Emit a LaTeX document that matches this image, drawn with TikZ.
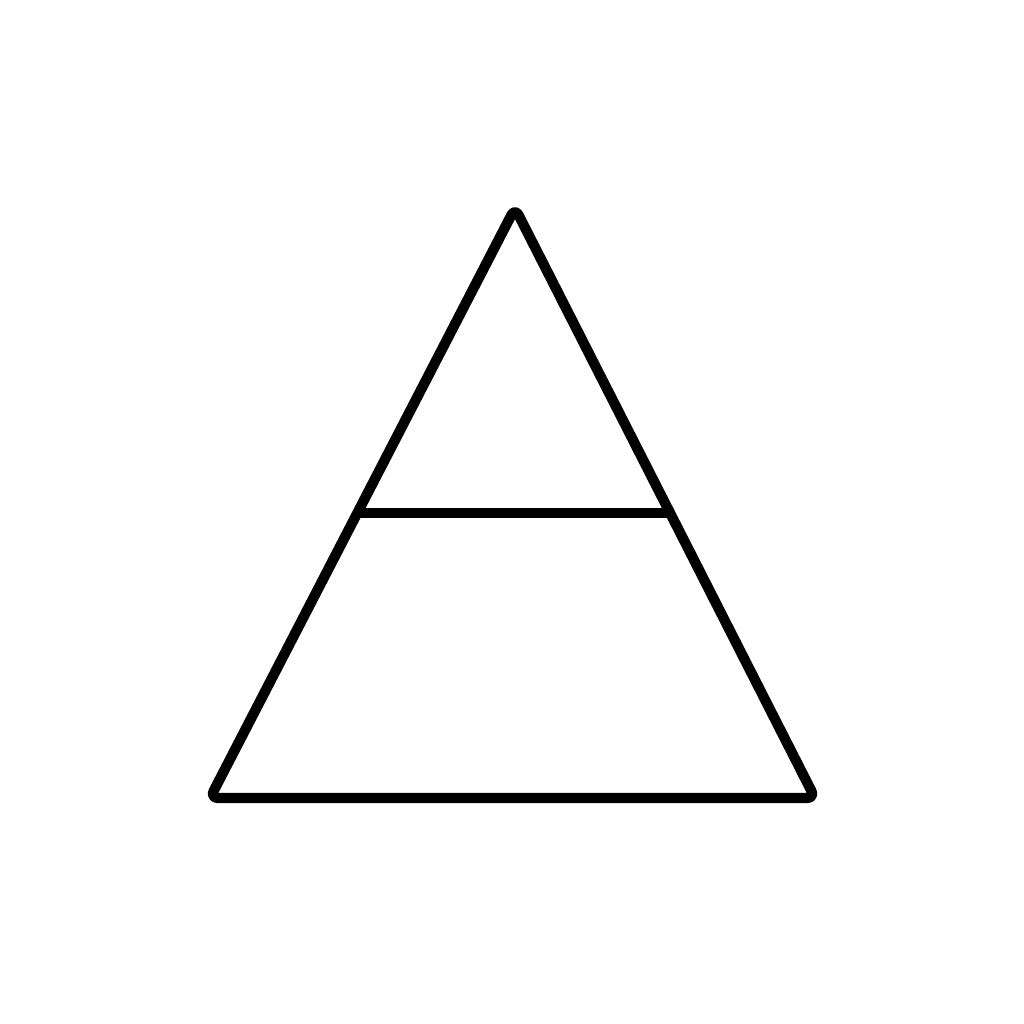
\documentclass[tikz,border=0pt]{standalone}
\usepackage{tikz}
\usepackage{xcolor}
\usetikzlibrary{calc}

\begin{document}
\begin{tikzpicture}[x=0.01cm, y=-0.01cm]

    % Fix the canvas
    \useasboundingbox[fill=white] (0,0) rectangle (1024,1024);

    % Corners of the triangle
    \coordinate (apex) at (515,208);
    \coordinate (bl) at (210,798);
    \coordinate (br) at (815,798);

    % Draw the triangle
    \draw[black, line width=2.9pt, line join=round, line cap=round, rounded corners=0.08cm] (apex) -- (br) -- (bl) -- cycle;

    % Divider across the middle
    \draw[black, line width=2.9pt] ($(apex)!0.517!(bl)$) -- ($(apex)!0.517!(br)$);

\end{tikzpicture}
\end{document}
